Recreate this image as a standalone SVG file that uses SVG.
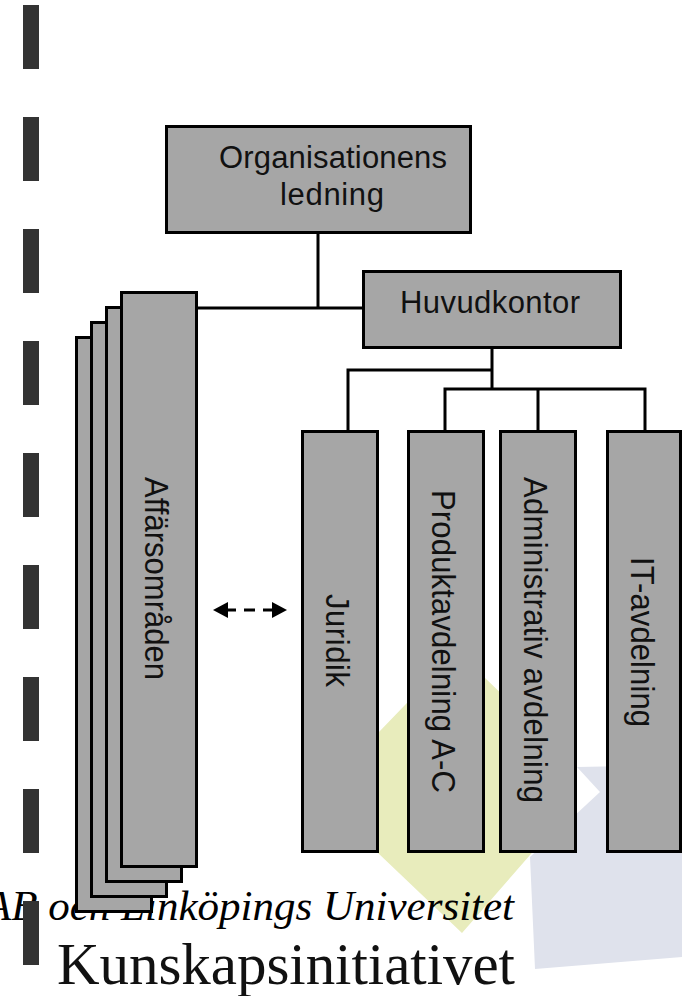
<svg xmlns="http://www.w3.org/2000/svg" width="682" height="996" viewBox="0 0 682 996">
<style>
.box{fill:#a6a6a6;stroke:#000;stroke-width:3}
.dash{fill:#333}
.t{font-family:"Liberation Sans",Arial,sans-serif;font-size:31px;fill:#111}
.c{fill:none;stroke:#000;stroke-width:3}
</style>
<defs>
<marker id="a" markerUnits="userSpaceOnUse" markerWidth="16" markerHeight="18" refX="0" refY="9" orient="auto-start-reverse" viewBox="0 0 16 18"><path d="M0 1L15 9L0 17Z" fill="#000"/></marker>
</defs>
<rect width="682" height="996" fill="#fff"/>
<g id="watermark">
<polygon points="378,853 462,933 530,855 570,810 570,760 457,651 378,733" fill="#e8ecbc"/>
<polygon points="577,767 682,765 682,957 535,969 530,857 600,792" fill="#dfe2ec"/>
</g>
<g id="footer">
<text x="-15" y="920" font-family="'Liberation Serif',serif" font-style="italic" font-size="43" fill="#000">AB och Linköpings Universitet</text>
<text x="57" y="984" font-family="'Liberation Serif',serif" font-size="59" fill="#111" textLength="458">Kunskapsinitiativet</text>
</g>
<g id="dashes">
<rect class="dash" x="23" y="5" width="16" height="64"/>
<rect class="dash" x="23" y="117" width="16" height="64"/>
<rect class="dash" x="23" y="229" width="16" height="64"/>
<rect class="dash" x="23" y="341" width="16" height="64"/>
<rect class="dash" x="23" y="453" width="16" height="64"/>
<rect class="dash" x="23" y="565" width="16" height="64"/>
<rect class="dash" x="23" y="677" width="16" height="64"/>
<rect class="dash" x="23" y="789" width="16" height="64"/>
<rect class="dash" x="23" y="901" width="16" height="64"/>
</g>
<g id="connectors">
<path class="c" d="M318 232V308M197 308H363"/>
<path class="c" d="M492 347V389M445 431V389H645V431M538 389V431"/>
<path class="c" d="M492 370H348V431"/>
<line class="c" x1="228" y1="610" x2="272" y2="610" stroke-dasharray="8 8 11 8 9" marker-start="url(#a)" marker-end="url(#a)"/>
</g>
<g id="org"><rect class="box" x="166.500" y="126.500" width="304" height="106"/><text class="t" x="219" y="168" textLength="228">Organisationens</text><text class="t" x="280" y="205" textLength="104">ledning</text></g>
<g id="huvudkontor"><rect class="box" x="363.500" y="271.500" width="257" height="76"/><text class="t" x="400" y="313" textLength="180">Huvudkontor</text></g>
<g id="stack4"><rect class="box" x="76.500" y="337.500" width="75" height="574"/></g>
<g id="stack3"><rect class="box" x="91.500" y="322.500" width="75" height="574"/></g>
<g id="stack2"><rect class="box" x="106.500" y="307.500" width="75" height="574"/></g>
<g id="affar"><rect class="box" x="121.500" y="292.500" width="75" height="574"/><text class="t" transform="translate(145 477) rotate(90) scale(1 1.08)" textLength="203">Affärsområden</text></g>
<g id="juridik"><rect class="box" x="302.500" y="431.500" width="75" height="420"/><text class="t" transform="translate(326 594) rotate(90) scale(1 1.08)" textLength="93">Juridik</text></g>
<g id="produkt"><rect class="box" x="408.500" y="431.500" width="75" height="420"/><text class="t" transform="translate(432 490) rotate(90) scale(1 1.05)" textLength="303">Produktavdelning A-C</text></g>
<g id="admin"><rect class="box" x="500.500" y="431.500" width="75" height="420"/><text class="t" transform="translate(524 477) rotate(90) scale(1 1.08)" textLength="326">Administrativ avdelning</text></g>
<g id="it"><rect class="box" x="607.500" y="431.500" width="73" height="420"/><text class="t" transform="translate(631 557) rotate(90) scale(1 1.08)" textLength="170">IT-avdelning</text></g>
</svg>
